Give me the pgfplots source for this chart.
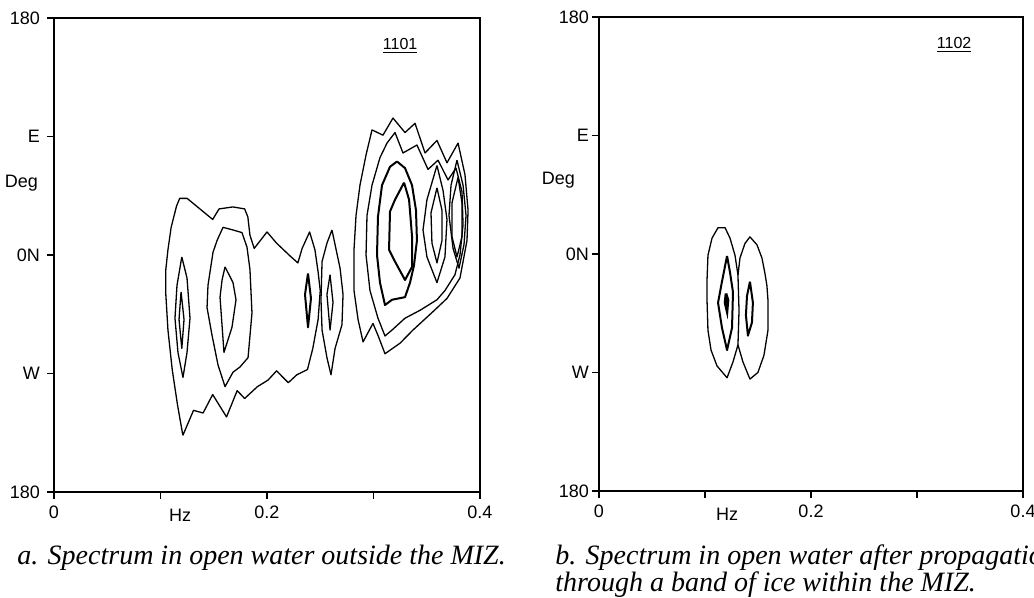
\documentclass[border=0pt]{standalone}
\usepackage{pgfplots}
\pgfplotsset{compat=1.18}
\usepackage{fontspec}
\setmainfont{Liberation Serif}
\setsansfont{Liberation Sans}
\pgfplotsset{
  spec/.style={
    scale only axis, width=213pt, height=237pt,
    xmin=0, xmax=0.4, ymin=-180, ymax=180,
    xtick={0,0.1,0.2,0.3,0.4}, xticklabels={0,,0.2,,0.4},
    ytick={-180,-90,0,90,180}, yticklabels={180,W,0N,E,180},
    tick align=outside, tick pos=left, major tick length=3.5pt,
    axis line style={line width=0.9pt, black},
    tick style={line width=0.8pt, black},
    tick label style={font=\sffamily\fontsize{9}{10}\selectfont},
    /pgf/number format/assume math mode=true,
    clip=false,
  },
  cont/.style={black, line width=0.65pt, mark=none, line join=round},
  thk/.style={black, line width=1pt, mark=none, line join=round},
}
\begin{document}
\begin{tikzpicture}
\useasboundingbox (0pt,0pt) rectangle (517pt,299pt);
% ---------- panel a ----------
\begin{axis}[spec, at={(27pt,53pt)}, anchor=south west]
% outer contour, left cluster
\addplot[cont] coordinates {(0.121,-137) (0.116,-114) (0.111,-87) (0.107,-57) (0.105,-30) (0.105,-11) (0.107,4) (0.110,21) (0.115,37) (0.118,43) (0.125,43) (0.137,35) (0.149,27) (0.155,35) (0.168,36.5) (0.179,35) (0.182,29) (0.184,15) (0.188,5) (0.200,17.5) (0.209,9) (0.222,-1) (0.229,-6) (0.233,5) (0.240,17.5) (0.245,4) (0.248,-13) (0.250,-27) (0.248,-49) (0.243,-71) (0.238,-87) (0.228,-91) (0.220,-97) (0.209,-88) (0.201,-95) (0.191,-100) (0.179,-109) (0.172,-103) (0.162,-123) (0.149,-106) (0.140,-120) (0.131,-118) (0.121,-137)};
% blob A
\addplot[cont] coordinates {(0.120,-1.5) (0.1155,-23) (0.1136,-48) (0.1164,-74) (0.1211,-93) (0.1249,-74) (0.1277,-48) (0.1249,-17.5) (0.120,-1.5)};
\addplot[cont] coordinates {(0.1193,-28) (0.1174,-49) (0.120,-71) (0.1221,-49) (0.1193,-28)};
% blob B
\addplot[cont] coordinates {(0.1587,21) (0.1681,19) (0.1765,17) (0.1812,6) (0.1840,-11) (0.1859,-44) (0.1822,-78) (0.1747,-85) (0.1681,-89) (0.1606,-100) (0.1540,-83.5) (0.1484,-61) (0.1437,-40) (0.1446,-23) (0.1493,2) (0.1531,11) (0.1587,21)};
\addplot[cont] coordinates {(0.1606,-9) (0.1681,-21) (0.1709,-34) (0.1671,-55) (0.1596,-74) (0.1559,-32) (0.1578,-19) (0.1606,-9)};
% blob F
\addplot[thk] coordinates {(0.2385,-14) (0.2357,-30) (0.2385,-55) (0.2413,-33) (0.2385,-14)};
% blob G
\addplot[cont] coordinates {(0.2610,19) (0.2686,-10) (0.2714,-30) (0.2704,-53) (0.2639,-71) (0.2601,-91) (0.2563,-78) (0.2517,-57) (0.2507,-34) (0.2517,-5) (0.2563,9) (0.2610,19)};
\addplot[cont] coordinates {(0.2592,-15) (0.2563,-30) (0.2592,-57) (0.2620,-36) (0.2592,-15)};
% right cluster
\addplot[cont] coordinates {(0.2817,-27) (0.2817,4) (0.2836,30) (0.2873,53) (0.2930,76) (0.2986,95) (0.3089,91) (0.3183,104) (0.3296,93) (0.3390,100) (0.3484,77.5) (0.3596,87) (0.3690,70) (0.3794,85) (0.3859,61) (0.3888,34) (0.3878,11) (0.3841,-5) (0.3812,-17.5) (0.3690,-33) (0.3559,-43) (0.3371,-57) (0.3249,-67) (0.3108,-75) (0.3042,-61) (0.2995,-52) (0.2902,-66) (0.2855,-49) (0.2817,-27)};
\addplot[cont] coordinates {(0.2986,53) (0.3061,74) (0.3127,85) (0.3202,93) (0.3277,77.5) (0.3408,83.5) (0.3512,65) (0.3606,72) (0.3700,57) (0.3775,66) (0.3831,48) (0.3841,23) (0.3812,0) (0.3765,-15) (0.3671,-27) (0.3596,-34) (0.3437,-42) (0.3296,-48) (0.3174,-57) (0.3108,-61.5) (0.3042,-48) (0.2967,-27) (0.2930,0) (0.2939,30) (0.2986,53)};
\addplot[thk] coordinates {(0.3221,71) (0.3296,66) (0.3362,53) (0.3399,34) (0.3408,11) (0.3380,-8) (0.3343,-21) (0.3296,-32) (0.3174,-34) (0.3108,-38) (0.3061,-21) (0.3033,0) (0.3042,29) (0.3080,53) (0.3155,67) (0.3221,71)};
\addplot[thk] coordinates {(0.3287,55) (0.3202,42) (0.3155,33) (0.3146,4) (0.3202,-5) (0.3296,-19) (0.3362,-9) (0.3362,14) (0.3334,42) (0.3287,55)};
\addplot[cont] coordinates {(0.3596,68) (0.3653,49) (0.3690,27) (0.3671,-1.5) (0.3596,-21) (0.3502,-1.5) (0.3465,19) (0.3502,42) (0.3596,68)};
\addplot[cont] coordinates {(0.3596,51) (0.3643,34) (0.3643,11) (0.3596,-6) (0.3549,9) (0.3540,32) (0.3596,51)};
\addplot[cont] coordinates {(0.3784,72) (0.3841,53) (0.3869,30) (0.3850,8) (0.3803,-10) (0.3747,5) (0.3709,30) (0.3728,53) (0.3784,72)};
\addplot[cont] coordinates {(0.3794,59) (0.3831,39.5) (0.3831,14) (0.3784,-1.5) (0.3737,14) (0.3737,39.5) (0.3794,59)};
\node[font=\sffamily\fontsize{8}{9}\selectfont] at (axis cs:0.325,159) {\underline{1101}};
\node[anchor=east, font=\sffamily\fontsize{9}{10}\selectfont] at ([xshift=-4.5pt]rel axis cs:0,0.652) {Deg};
\node[anchor=base, font=\sffamily\fontsize{9}{10}\selectfont] at ([yshift=-15pt]rel axis cs:0.296,0) {Hz};
\end{axis}
% ---------- panel b ----------
\begin{axis}[spec, at={(299.5pt,53.5pt)}, anchor=south west, width=212pt,
  yticklabel style={xshift=2pt}]
\addplot[cont] coordinates {(0.1311,-16) (0.1283,-1) (0.1236,12) (0.1189,20) (0.1123,20) (0.1066,12) (0.1028,-1) (0.1019,-20) (0.1019,-35) (0.1028,-58) (0.1057,-73) (0.1113,-85) (0.1208,-94) (0.1264,-82) (0.1311,-69) (0.1321,-43) (0.1311,-16)};
\addplot[cont] coordinates {(0.1311,-69) (0.1358,-82) (0.1424,-95) (0.1499,-90) (0.1556,-77) (0.1594,-58) (0.1594,-35) (0.1584,-24) (0.1565,-14.5) (0.1537,-3) (0.1490,7) (0.1424,13) (0.1377,8) (0.1330,-3) (0.1311,-16)};
\addplot[thk] coordinates {(0.1208,-1.5) (0.1160,-21) (0.1123,-37) (0.1160,-56) (0.1208,-73) (0.1255,-56) (0.1264,-29) (0.1236,-14) (0.1208,-1.5)};
\addplot[black, line width=1.3pt, mark=none] coordinates {(0.1198,-30) (0.1189,-37) (0.1208,-43.5) (0.1217,-35) (0.1198,-30)};
\addplot[thk] coordinates {(0.1424,-21) (0.1396,-32) (0.1386,-46.5) (0.1405,-62) (0.1443,-52) (0.1452,-37) (0.1424,-21)};
\node[font=\sffamily\fontsize{8}{9}\selectfont] at (axis cs:0.335,159) {\underline{1102}};
\node[anchor=east, font=\sffamily\fontsize{9}{10}\selectfont] at ([xshift=-8.5pt]rel axis cs:0,0.656) {Deg};
\node[anchor=base, font=\sffamily\fontsize{9}{10}\selectfont] at ([yshift=-15pt]rel axis cs:0.302,0) {Hz};
\end{axis}
% ---------- captions ----------
\node[anchor=base west, inner sep=0pt, font=\itshape\fontsize{14}{16}\selectfont] at (8.5pt,16.5pt) {a. Spectrum in open water outside the MIZ.};
\node[anchor=base west, inner sep=0pt, font=\itshape\fontsize{14}{16}\selectfont] at (277.5pt,16.5pt) {b. Spectrum in open water after propagation};
\node[anchor=base west, inner sep=0pt, font=\itshape\fontsize{14}{16}\selectfont] at (277.5pt,3pt) {through a band of ice within the MIZ.};
\end{tikzpicture}
\end{document}
